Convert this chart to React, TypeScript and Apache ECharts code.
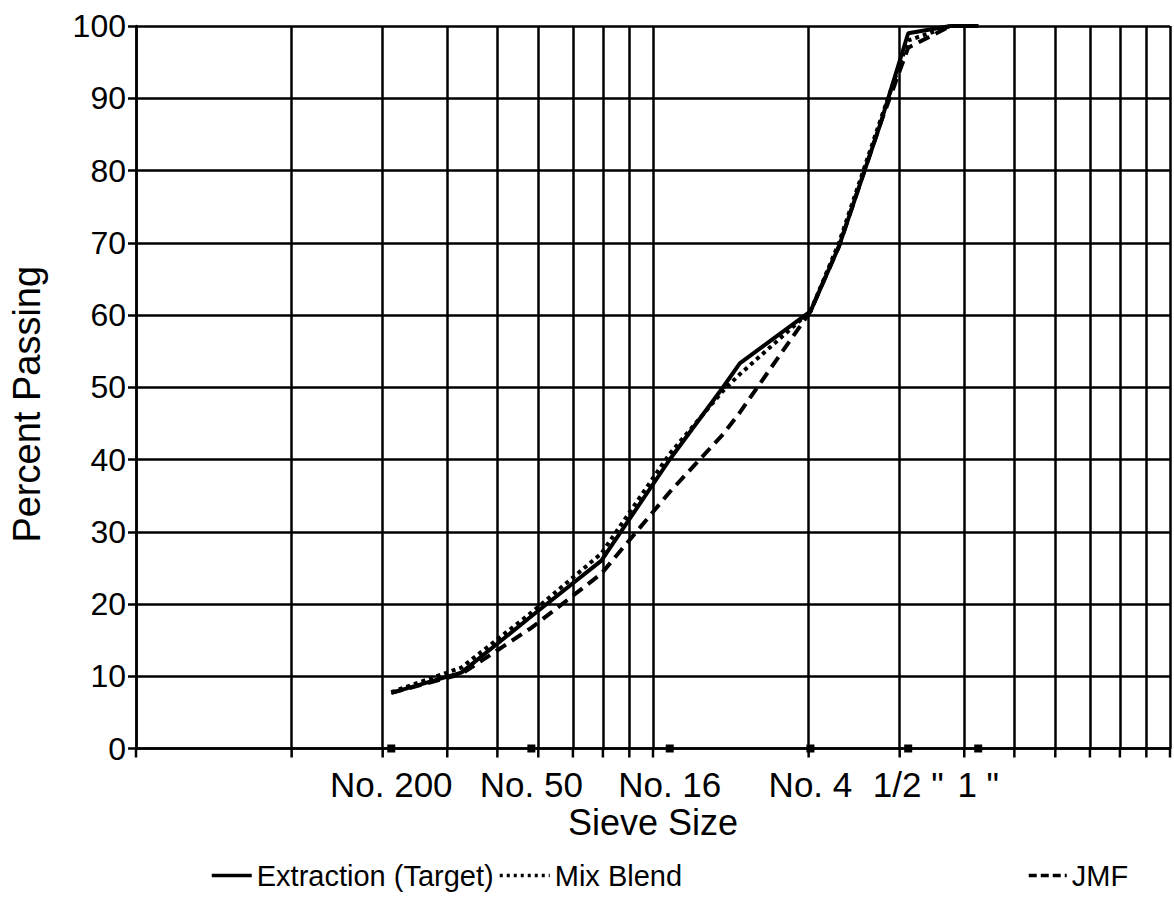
import React, { useEffect, useRef } from "react";
import * as echarts from "echarts";

// Sieve openings (mm) at which the gradations were reported
const sieveSizesMm = [0.075, 0.15, 0.3, 0.6, 1.18, 2.0, 2.36, 4.75, 6.3, 9.5, 12.5, 19, 25];

// Percent passing for each gradation
const extractionTarget = [7.7, 10.5, 18.3, 26, 40, 50, 53.3, 60.5, 69.5, 86.5, 99, 100, 100];
const mixBlend = [7.8, 11.2, 18.8, 27, 40.8, 49.5, 51.8, 60.5, 70, 87, 98, 100, 100];
const jmf = [7.7, 10.3, 16.7, 24.2, 35.5, 43.5, 46.5, 60.5, 69.5, 86.5, 97, 100, 100];

// Sieves named under the horizontal axis
const labeledSievesMm = [0.075, 0.3, 1.18, 4.75, 12.5, 25];
const labeledSieveNames = ["No. 200", "No. 50", "No. 16", "No. 4", '1/2 "', '1 "'];

// Vertical grid lines of the log-scaled 0.45-power axis
const xGridValues = [0.1, 0.2, 0.3, 0.4, 0.5, 0.6, 0.7, 0.8, 0.9, 1, 2, 3, 4, 5, 6, 7, 8, 9, 10];
const xMinorGridValues = [0.2, 0.3, 0.4, 0.5, 0.6, 0.7, 0.8, 0.9, 2, 3, 4, 5, 6, 7, 8, 9];

const POWER = 0.45;
const toPowerScale = (mm: number) => Math.pow(mm, POWER);

const FONT = "'Liberation Sans', Arial, Helvetica, sans-serif";
const INK = "#000";
const GRID_WIDTH = 2.5;

const toPoints = (values: number[]) =>
  sieveSizesMm.map((mm, i) => [toPowerScale(mm), values[i]]);

const legendBox = (name: string, left: number, itemWidth: number, dash: any) => ({
  data: [name],
  left,
  top: 856,
  itemWidth,
  itemHeight: 14,
  itemStyle: { opacity: 0 },
  lineStyle: { width: 3.5, type: dash, color: INK },
  textStyle: { fontFamily: FONT, fontSize: 29, color: INK },
});

export default function App() {
  const ref = useRef<HTMLDivElement>(null);

  useEffect(() => {
    if (!ref.current) return;
    const chart = echarts.init(ref.current, undefined, { renderer: "svg" });

    const lineBase = {
      type: "line" as const,
      symbol: "none",
      smooth: false,
      z: 5,
    };

    chart.setOption({
      animation: false,
      backgroundColor: "#fff",
      textStyle: { fontFamily: FONT, color: INK },
      grid: { left: 133, right: 4, top: 26, bottom: 170.5, containLabel: false },
      legend: [
        legendBox("Extraction (Target)", 205, 40, "solid"),
        legendBox("Mix Blend", 493, 50, [3, 4]),
        legendBox("JMF", 1022, 38, [8, 4]),
      ],
      xAxis: {
        type: "log",
        logBase: 10,
        min: 0.1,
        max: 10,
        name: "Sieve Size",
        nameLocation: "middle",
        nameGap: 56,
        nameTextStyle: { fontFamily: FONT, fontSize: 36, color: INK },
        axisLine: { show: true, lineStyle: { color: INK, width: GRID_WIDTH } },
        axisTick: { show: false },
        axisLabel: { show: false },
        splitLine: { show: true, lineStyle: { color: INK, width: GRID_WIDTH } },
      },
      yAxis: {
        type: "value",
        min: 0,
        max: 100,
        interval: 10,
        name: "Percent Passing",
        nameLocation: "middle",
        nameGap: 90,
        nameRotate: 90,
        nameTextStyle: {
          fontFamily: FONT,
          fontSize: 38,
          color: INK,
          padding: [0, 34, 0, 0],
        },
        axisLine: { show: true, lineStyle: { color: INK, width: GRID_WIDTH } },
        axisTick: { show: true, length: 8, lineStyle: { color: INK, width: GRID_WIDTH } },
        axisLabel: { fontFamily: FONT, fontSize: 32, color: INK, margin: 10 },
        splitLine: { show: true, lineStyle: { color: INK, width: GRID_WIDTH } },
      },
      series: [
        {
          ...lineBase,
          name: "Extraction (Target)",
          data: toPoints(extractionTarget),
          lineStyle: { color: INK, width: 4, type: "solid" },
          itemStyle: { color: INK },
        },
        {
          ...lineBase,
          name: "Mix Blend",
          data: toPoints(mixBlend),
          lineStyle: { color: INK, width: 4, type: [4, 4] },
          itemStyle: { color: INK },
        },
        {
          ...lineBase,
          name: "JMF",
          data: toPoints(jmf),
          lineStyle: { color: INK, width: 4, type: [12, 7] },
          itemStyle: { color: INK },
        },
        {
          // tick marks below the axis at every grid line, plus the minor grid lines
          name: "grid",
          type: "scatter",
          clip: false,
          silent: true,
          symbol: "rect",
          symbolSize: [GRID_WIDTH, 9],
          symbolOffset: [0, 4.5],
          itemStyle: { color: INK, opacity: 1 },
          data: xGridValues.map((v) => [v, 0]),
          z: 3,
          markLine: {
            silent: true,
            symbol: "none",
            label: { show: false },
            lineStyle: { color: INK, width: GRID_WIDTH, type: "solid", opacity: 1 },
            data: xMinorGridValues.map((v) => ({ xAxis: v })),
          },
        },
        {
          name: "sieves",
          type: "scatter",
          clip: false,
          silent: true,
          symbol: "rect",
          symbolSize: 8,
          itemStyle: { color: INK, opacity: 1 },
          z: 6,
          data: labeledSievesMm.map((mm, i) => ({
            value: [toPowerScale(mm), 0],
            name: labeledSieveNames[i],
          })),
          label: {
            show: true,
            position: "bottom",
            distance: 14,
            formatter: (p: any) => p.name,
            fontFamily: FONT,
            fontSize: 35,
            color: INK,
            opacity: 1,
          },
        },
      ],
    });

    return () => chart.dispose();
  }, []);

  return (
    <div
      ref={ref}
      style={{ position: "absolute", left: 0, top: 0, width: 1174, height: 919 }}
    />
  );
}
